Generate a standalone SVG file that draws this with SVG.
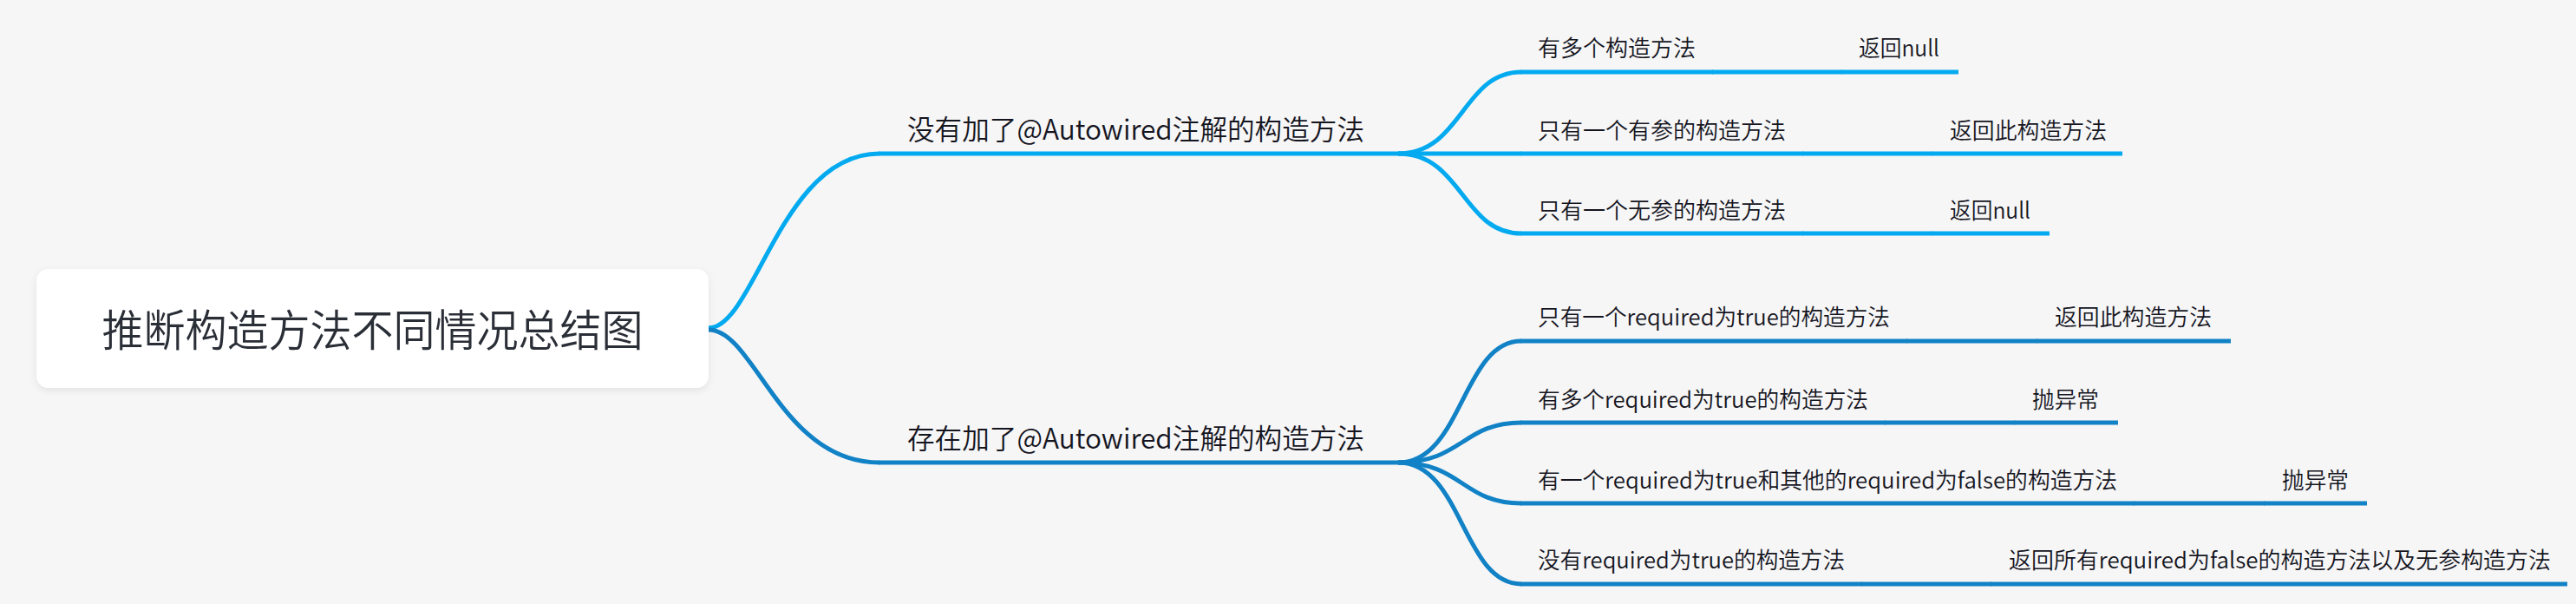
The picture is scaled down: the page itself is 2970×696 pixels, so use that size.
<svg xmlns="http://www.w3.org/2000/svg" width="2970" height="696" viewBox="0 0 2970 696">
  <defs>
    <filter id="shadow" x="-10%" y="-20%" width="120%" height="150%">
      <feDropShadow dx="0" dy="3" stdDeviation="4" flood-color="#000" flood-opacity="0.08"/>
    </filter>
    <style>
      text { font-family: "Noto Sans CJK SC", "Noto Sans", sans-serif; fill: #15151f; font-weight: 350; }
      .root-text { font-size: 50px; fill: #2a2e36; }
      .b-text { font-size: 32px; }
      .s-text { font-size: 26px; }
      .c1 { stroke: #03aaf0; fill: none; stroke-width: 5; stroke-linecap: butt; }
      .c2 { stroke: #1282c6; fill: none; stroke-width: 5; stroke-linecap: butt; }
    </style>
  </defs>
  <rect width="2970" height="696" fill="#f6f6f6"/>

  <g id="connectors">
    <path class="c1" d="M817,378 C870,378 900,177 1014,177"/>
    <path class="c2" d="M817,380 C870,380 900,533 1014,533"/>
    <path class="c1" d="M1612,177 C1686,177 1686,83 1754,83"/>
    <path class="c1" d="M1612,177 L1754,177"/>
    <path class="c1" d="M1612,177 C1686,177 1686,269 1754,269"/>
    <path class="c2" d="M1612,533 C1686,533 1686,393 1754,393"/>
    <path class="c2" d="M1612,533 C1686,533 1686,487 1754,487"/>
    <path class="c2" d="M1612,533 C1686,533 1686,580 1754,580"/>
    <path class="c2" d="M1612,533 C1686,533 1686,673 1754,673"/>
    <path class="c1" d="M1974,83 L2124,83"/>
    <path class="c1" d="M2078,177 L2228,177"/>
    <path class="c1" d="M2078,269 L2228,269"/>
    <path class="c2" d="M2198,393 L2349,393"/>
    <path class="c2" d="M2173,487 L2323,487"/>
    <path class="c2" d="M2460,580 L2611,580"/>
    <path class="c2" d="M2146,673 L2296,673"/>
  </g>

  <g id="root">
    <rect x="42" y="310" width="775" height="137" rx="14" ry="14" fill="#ffffff" filter="url(#shadow)"/>
    <text class="root-text" x="429.5" y="399" text-anchor="middle" textLength="624" lengthAdjust="spacingAndGlyphs">推断构造方法不同情况总结图</text>
  </g>

  <g id="branch1">
    <text class="b-text" x="1046" y="161" textLength="527" lengthAdjust="spacingAndGlyphs">没有加了@Autowired注解的构造方法</text>
    <path class="c1" d="M1013,177 L1613,177"/>
  </g>
  <g id="branch2">
    <text class="b-text" x="1046" y="517" textLength="527" lengthAdjust="spacingAndGlyphs">存在加了@Autowired注解的构造方法</text>
    <path class="c2" d="M1013,533 L1613,533"/>
  </g>

  <g id="b1-s1">
    <text class="s-text" x="1773" y="65" textLength="182" lengthAdjust="spacingAndGlyphs">有多个构造方法</text>
    <path class="c1" d="M1753,83 L1975,83"/>
  </g>
  <g id="b1-s1-r">
    <text class="s-text" x="2143" y="65" textLength="93" lengthAdjust="spacingAndGlyphs">返回null</text>
    <path class="c1" d="M2123,83 L2258,83"/>
  </g>

  <g id="b1-s2">
    <text class="s-text" x="1773" y="160" textLength="286" lengthAdjust="spacingAndGlyphs">只有一个有参的构造方法</text>
    <path class="c1" d="M1753,177 L2079,177"/>
  </g>
  <g id="b1-s2-r">
    <text class="s-text" x="2248" y="160" textLength="181" lengthAdjust="spacingAndGlyphs">返回此构造方法</text>
    <path class="c1" d="M2227,177 L2447,177"/>
  </g>

  <g id="b1-s3">
    <text class="s-text" x="1773" y="252" textLength="286" lengthAdjust="spacingAndGlyphs">只有一个无参的构造方法</text>
    <path class="c1" d="M1753,269 L2079,269"/>
  </g>
  <g id="b1-s3-r">
    <text class="s-text" x="2248" y="252" textLength="93" lengthAdjust="spacingAndGlyphs">返回null</text>
    <path class="c1" d="M2227,269 L2363,269"/>
  </g>

  <g id="b2-s1">
    <text class="s-text" x="1773" y="375" textLength="406" lengthAdjust="spacingAndGlyphs">只有一个required为true的构造方法</text>
    <path class="c2" d="M1753,393 L2199,393"/>
  </g>
  <g id="b2-s1-r">
    <text class="s-text" x="2369" y="375" textLength="181" lengthAdjust="spacingAndGlyphs">返回此构造方法</text>
    <path class="c2" d="M2348,393 L2572,393"/>
  </g>

  <g id="b2-s2">
    <text class="s-text" x="1773" y="470" textLength="381" lengthAdjust="spacingAndGlyphs">有多个required为true的构造方法</text>
    <path class="c2" d="M1753,487 L2174,487"/>
  </g>
  <g id="b2-s2-r">
    <text class="s-text" x="2343" y="470" textLength="77" lengthAdjust="spacingAndGlyphs">抛异常</text>
    <path class="c2" d="M2322,487 L2442,487"/>
  </g>

  <g id="b2-s3">
    <text class="s-text" x="1773" y="563" textLength="668" lengthAdjust="spacingAndGlyphs">有一个required为true和其他的required为false的构造方法</text>
    <path class="c2" d="M1753,580 L2461,580"/>
  </g>
  <g id="b2-s3-r">
    <text class="s-text" x="2631" y="563" textLength="77" lengthAdjust="spacingAndGlyphs">抛异常</text>
    <path class="c2" d="M2610,580 L2729,580"/>
  </g>

  <g id="b2-s4">
    <text class="s-text" x="1773" y="655" textLength="354" lengthAdjust="spacingAndGlyphs">没有required为true的构造方法</text>
    <path class="c2" d="M1753,673 L2147,673"/>
  </g>
  <g id="b2-s4-r">
    <text class="s-text" x="2316" y="655" textLength="625" lengthAdjust="spacingAndGlyphs">返回所有required为false的构造方法以及无参构造方法</text>
    <path class="c2" d="M2295,673 L2960,673"/>
  </g>
</svg>
